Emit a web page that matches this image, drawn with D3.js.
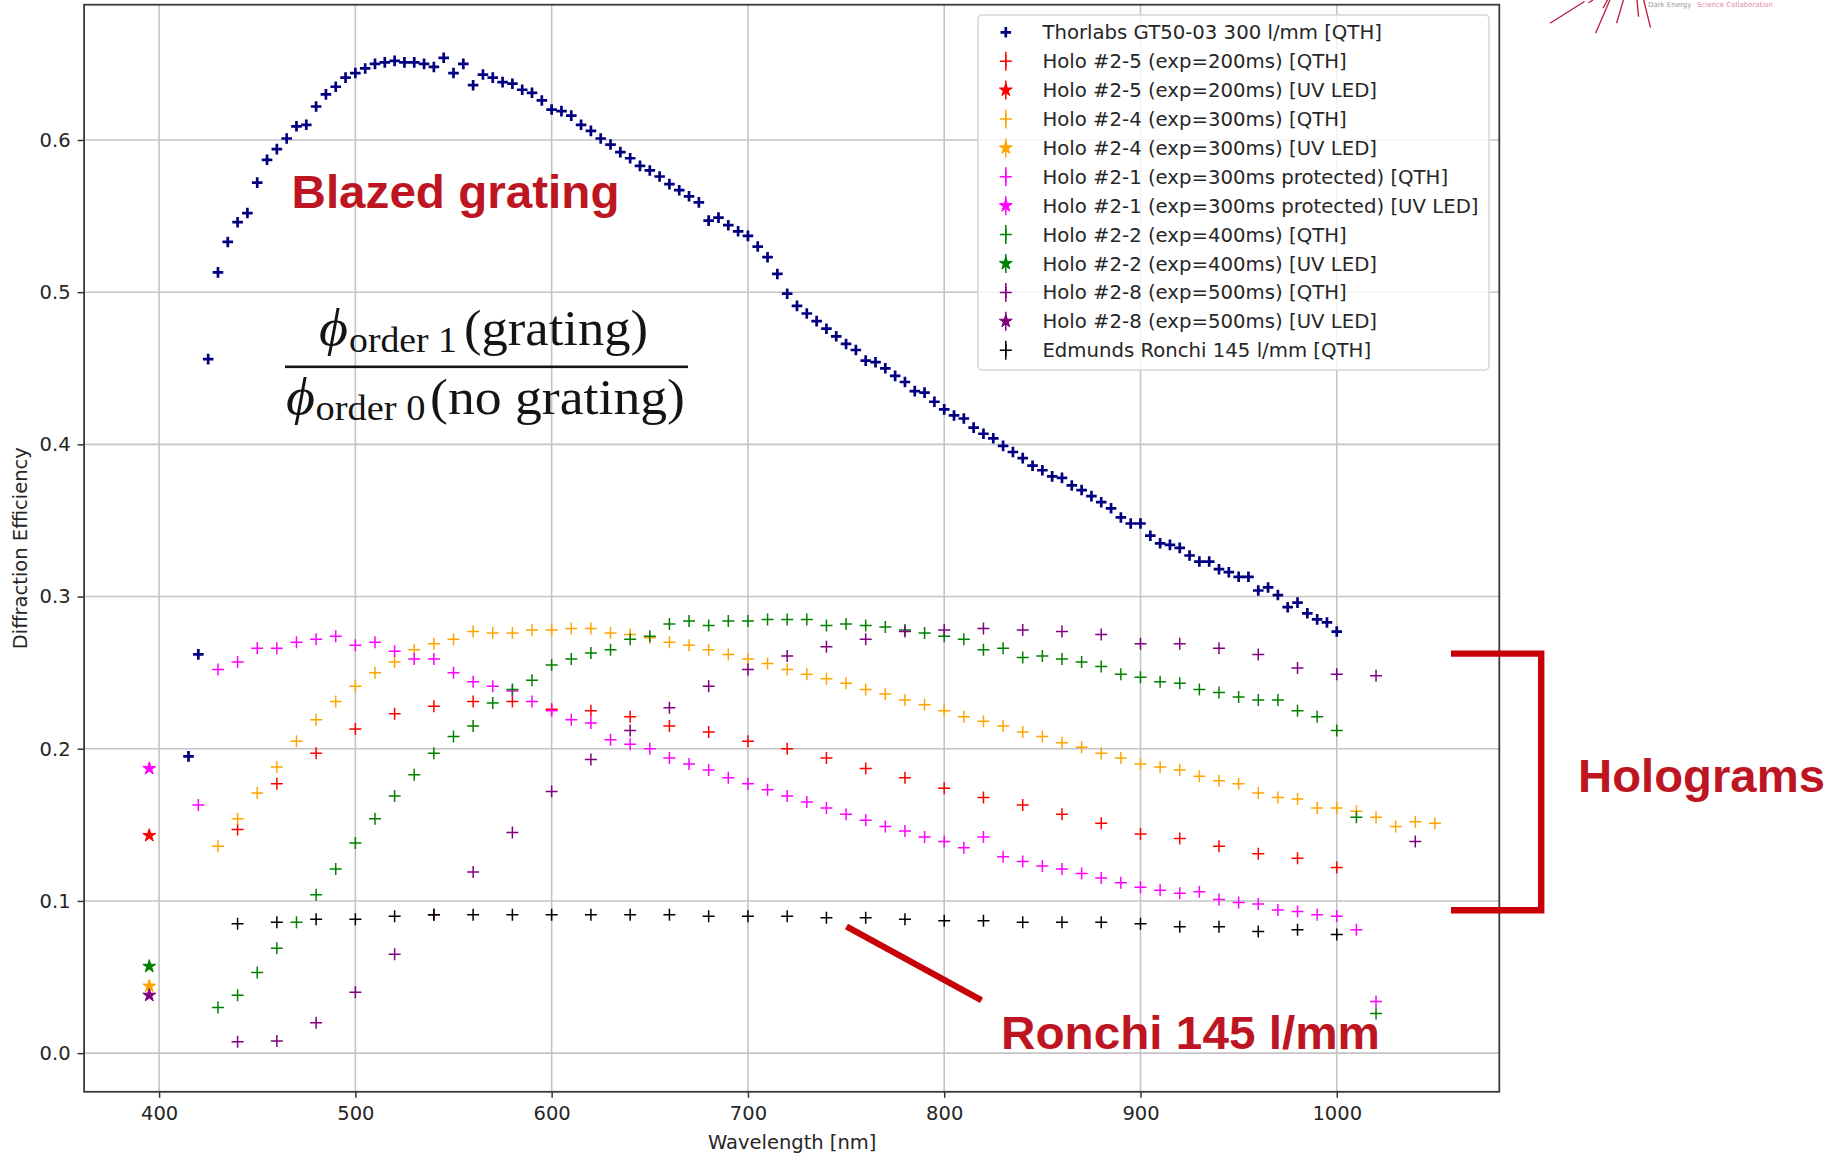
<!DOCTYPE html>
<html><head><meta charset="utf-8">
<script src="https://cdn.jsdelivr.net/npm/d3@7"></script>
<style>body{margin:0;background:#fff;} svg{display:block;}</style>
</head><body>
<script>
// ---------------- DATA ----------------
const xTicks = [400, 500, 600, 700, 800, 900, 1000];
const yTicks = [0.0, 0.1, 0.2, 0.3, 0.4, 0.5, 0.6];

const wlThorlabs = [415,420,425,430,435,440,445,450,455,460,465,470,475,480,485,490,495,500,505,510,515,520,525,530,535,540,545,550,555,560,565,570,575,580,585,590,595,600,605,610,615,620,625,630,635,640,645,650,655,660,665,670,675,680,685,690,695,700,705,710,715,720,725,730,735,740,745,750,755,760,765,770,775,780,785,790,795,800,805,810,815,820,825,830,835,840,845,850,855,860,865,870,875,880,885,890,895,900,905,910,915,920,925,930,935,940,945,950,955,960,965,970,975,980,985,990,995,1000];
const effThorlabs = [0.195,0.262,0.456,0.513,0.533,0.546,0.552,0.572,0.587,0.594,0.601,0.609,0.610,0.622,0.630,0.635,0.641,0.644,0.647,0.650,0.651,0.652,0.651,0.651,0.650,0.648,0.654,0.644,0.650,0.636,0.643,0.641,0.638,0.637,0.633,0.631,0.626,0.620,0.619,0.616,0.610,0.606,0.601,0.597,0.592,0.588,0.583,0.580,0.576,0.571,0.567,0.563,0.559,0.547,0.549,0.544,0.540,0.537,0.530,0.523,0.512,0.499,0.491,0.486,0.481,0.476,0.471,0.466,0.462,0.455,0.454,0.450,0.445,0.441,0.435,0.434,0.428,0.423,0.419,0.417,0.411,0.407,0.404,0.399,0.395,0.391,0.386,0.383,0.379,0.378,0.373,0.370,0.366,0.362,0.358,0.352,0.348,0.348,0.340,0.335,0.334,0.332,0.327,0.323,0.323,0.318,0.316,0.313,0.313,0.304,0.306,0.301,0.293,0.296,0.289,0.285,0.283,0.277];

const wlHolo25 = [440,460,480,500,520,540,560,580,600,620,640,660,680,700,720,740,760,780,800,820,840,860,880,900,920,940,960,980,1000];
const effHolo25 = [0.147,0.177,0.197,0.213,0.223,0.228,0.231,0.231,0.226,0.225,0.221,0.215,0.211,0.205,0.200,0.194,0.187,0.181,0.174,0.168,0.163,0.157,0.151,0.144,0.141,0.136,0.131,0.128,0.122];

const wlHolo24 = [430,440,450,460,470,480,490,500,510,520,530,540,550,560,570,580,590,600,610,620,630,640,650,660,670,680,690,700,710,720,730,740,750,760,770,780,790,800,810,820,830,840,850,860,870,880,890,900,910,920,930,940,950,960,970,980,990,1000,1010,1020,1030,1040,1050];
const effHolo24 = [0.136,0.154,0.171,0.188,0.205,0.219,0.231,0.241,0.250,0.257,0.265,0.269,0.272,0.277,0.276,0.276,0.278,0.278,0.279,0.279,0.276,0.275,0.273,0.270,0.268,0.265,0.262,0.259,0.256,0.252,0.249,0.246,0.243,0.239,0.236,0.232,0.229,0.225,0.221,0.218,0.215,0.211,0.208,0.204,0.201,0.197,0.194,0.190,0.188,0.186,0.182,0.179,0.177,0.171,0.168,0.167,0.161,0.161,0.159,0.155,0.149,0.152,0.151];

const wlHolo21 = [420,430,440,450,460,470,480,490,500,510,520,530,540,550,560,570,580,590,600,610,620,630,640,650,660,670,680,690,700,710,720,730,740,750,760,770,780,790,800,810,820,830,840,850,860,870,880,890,900,910,920,930,940,950,960,970,980,990,1000,1010,1020];
const effHolo21 = [0.163,0.252,0.257,0.266,0.266,0.270,0.272,0.274,0.268,0.270,0.264,0.259,0.259,0.250,0.244,0.241,0.238,0.231,0.225,0.219,0.217,0.206,0.203,0.200,0.194,0.190,0.186,0.181,0.177,0.173,0.169,0.165,0.161,0.157,0.153,0.149,0.146,0.142,0.139,0.135,0.142,0.129,0.126,0.123,0.121,0.118,0.115,0.112,0.109,0.107,0.105,0.106,0.101,0.099,0.098,0.094,0.093,0.091,0.090,0.081,0.034];

const wlHolo22 = [430,440,450,460,470,480,490,500,510,520,530,540,550,560,570,580,590,600,610,620,630,640,650,660,670,680,690,700,710,720,730,740,750,760,770,780,790,800,810,820,830,840,850,860,870,880,890,900,910,920,930,940,950,960,970,980,990,1000,1010,1020];
const effHolo22 = [0.030,0.038,0.053,0.069,0.086,0.104,0.121,0.138,0.154,0.169,0.183,0.197,0.208,0.215,0.230,0.239,0.245,0.255,0.259,0.263,0.265,0.272,0.274,0.282,0.284,0.281,0.284,0.284,0.285,0.285,0.285,0.281,0.282,0.281,0.280,0.278,0.276,0.274,0.272,0.265,0.266,0.260,0.261,0.259,0.257,0.254,0.249,0.247,0.244,0.243,0.239,0.237,0.234,0.232,0.232,0.225,0.221,0.212,0.155,0.026];

const wlHolo28 = [440,460,480,500,520,540,560,580,600,620,640,660,680,700,720,740,760,780,800,820,840,860,880,900,920,940,960,980,1000,1020,1040];
const effHolo28 = [0.0075,0.008,0.020,0.040,0.065,0.091,0.119,0.145,0.172,0.193,0.212,0.227,0.241,0.252,0.261,0.267,0.272,0.277,0.278,0.279,0.278,0.277,0.275,0.269,0.269,0.266,0.262,0.253,0.249,0.248,0.139];

const wlRonchi = [440,460,480,500,520,540,560,580,600,620,640,660,680,700,720,740,760,780,800,820,840,860,880,900,920,940,960,980,1000];
const effRonchi = [0.085,0.086,0.088,0.088,0.090,0.091,0.091,0.091,0.091,0.091,0.091,0.091,0.090,0.090,0.090,0.089,0.089,0.088,0.087,0.087,0.086,0.086,0.086,0.085,0.083,0.083,0.080,0.081,0.078];

// UV LED single measurements (395 nm)
const wlUV = [395];
const effUVHolo25 = [0.143];
const effUVHolo24 = [0.044];
const effUVHolo21 = [0.187];
const effUVHolo22 = [0.057];
const effUVHolo28 = [0.038];

const legendLabels = [
  "Thorlabs GT50-03 300 l/mm [QTH]",
  "Holo #2-5 (exp=200ms) [QTH]",
  "Holo #2-5 (exp=200ms) [UV LED]",
  "Holo #2-4 (exp=300ms) [QTH]",
  "Holo #2-4 (exp=300ms) [UV LED]",
  "Holo #2-1 (exp=300ms protected) [QTH]",
  "Holo #2-1 (exp=300ms protected) [UV LED]",
  "Holo #2-2 (exp=400ms) [QTH]",
  "Holo #2-2 (exp=400ms) [UV LED]",
  "Holo #2-8 (exp=500ms) [QTH]",
  "Holo #2-8 (exp=500ms) [UV LED]",
  "Edmunds Ronchi 145 l/mm [QTH]"
];
const seriesColors = ["navy","red","red","orange","orange","magenta","magenta","green","green","purple","purple","black"];

// ---------------- BUILD ----------------
const series = [
  {wl: wlThorlabs, eff: effThorlabs, kind: "bold"},
  {wl: wlHolo25, eff: effHolo25, kind: "plus"},
  {wl: wlUV, eff: effUVHolo25, kind: "star"},
  {wl: wlHolo24, eff: effHolo24, kind: "plus"},
  {wl: wlUV, eff: effUVHolo24, kind: "star"},
  {wl: wlHolo21, eff: effHolo21, kind: "plus"},
  {wl: wlUV, eff: effUVHolo21, kind: "star"},
  {wl: wlHolo22, eff: effHolo22, kind: "plus"},
  {wl: wlUV, eff: effUVHolo22, kind: "star"},
  {wl: wlHolo28, eff: effHolo28, kind: "plus"},
  {wl: wlUV, eff: effUVHolo28, kind: "star"},
  {wl: wlRonchi, eff: effRonchi, kind: "plus"}
].map((s, i) => ({...s, label: legendLabels[i], color: seriesColors[i],
   pts: d3.range(Math.min(s.wl.length, s.eff.length)).map(j => [s.wl[j], s.eff[j]])}));

const W = 1831, H = 1153;
const L = 84.1, R = 1499.3, T = 4.7, B = 1091.8;
const x = d3.scaleLinear().domain([361.8, 1082.8]).range([L, R]);
const y = d3.scaleLinear().domain([-0.0254, 0.6889]).range([B, T]);

const svg = d3.select("body").append("svg").attr("width", W).attr("height", H)
  .style("font-family", "'DejaVu Sans', sans-serif");
svg.append("rect").attr("width", W).attr("height", H).attr("fill", "#fff");

// grid
const grid = svg.append("g");
grid.selectAll(".gx").data(xTicks).join("line")
  .attr("x1", d => x(d)).attr("x2", d => x(d)).attr("y1", T).attr("y2", B)
  .attr("stroke", "#c4c4c4").attr("stroke-width", 1.6);
grid.selectAll(".gy").data(yTicks).join("line")
  .attr("y1", d => y(d)).attr("y2", d => y(d)).attr("x1", L).attr("x2", R)
  .attr("stroke", "#c4c4c4").attr("stroke-width", 1.6);

// axes
const xAxis = svg.append("g").attr("transform", `translate(0,${B})`)
  .call(d3.axisBottom(x).tickValues(xTicks).tickFormat(d3.format("d")).tickSize(6).tickPadding(8.5));
const yAxis = svg.append("g").attr("transform", `translate(${L},0)`)
  .call(d3.axisLeft(y).tickValues(yTicks).tickFormat(d3.format(".1f")).tickSize(6.5).tickPadding(7));
[xAxis, yAxis].forEach(a => {
  a.select(".domain").remove();
  a.selectAll(".tick line").attr("stroke", "#333").attr("stroke-width", 1.5);
  a.selectAll(".tick text").attr("fill", "#262626").style("font-size", "19.5px")
    .style("font-family", "'DejaVu Sans', sans-serif");
});

// spines
svg.append("rect").attr("x", L).attr("y", T).attr("width", R - L).attr("height", B - T)
  .attr("fill", "none").attr("stroke", "#3a3a3a").attr("stroke-width", 1.8);

// axis labels
svg.append("text").attr("x", (L + R) / 2 + 0.5).attr("y", 1148.5).attr("text-anchor", "middle")
  .attr("fill", "#262626").style("font-size", "19.5px").text("Wavelength [nm]");
svg.append("text").attr("transform", `translate(27,${(T + B) / 2}) rotate(-90)`)
  .attr("text-anchor", "middle").attr("fill", "#262626").style("font-size", "19.5px")
  .text("Diffraction Efficiency");

// markers
function plusPath(h) { return `M${-h},0H${h}M0,${-h}V${h}`; }
const starPath = d3.symbol(d3.symbolStar).size(52)();

function drawMarker(g, kind, color) {
  if (kind === "bold") {
    g.append("path").attr("d", plusPath(5.3)).attr("stroke", color).attr("stroke-width", 2.7).attr("fill", "none");
  } else if (kind === "plus") {
    g.append("path").attr("d", plusPath(6)).attr("stroke", color).attr("stroke-width", 1.5).attr("fill", "none");
  } else {
    g.append("path").attr("d", starPath).attr("fill", color).attr("stroke", color).attr("stroke-width", 1)
      .attr("stroke-linejoin", "round");
  }
}

const plot = svg.append("g");
series.forEach(s => {
  const g = plot.append("g");
  g.selectAll("g").data(s.pts).join("g")
    .attr("transform", d => `translate(${x(d[0])},${y(d[1])})`)
    .each(function () { drawMarker(d3.select(this), s.kind, s.color); });
});

// legend
const lg = svg.append("g");
lg.append("rect").attr("x", 978).attr("y", 15).attr("width", 511).attr("height", 355).attr("rx", 4)
  .attr("fill", "rgba(255,255,255,0.8)").attr("stroke", "#d6d6d6").attr("stroke-width", 1.5);
series.forEach((s, i) => {
  const cy = 32.3 + i * 28.9;
  const g = lg.append("g").attr("transform", `translate(1005.8,${cy})`);
  if (s.kind !== "bold") {
    g.append("line").attr("y1", -9.5).attr("y2", 9.5).attr("stroke", s.color).attr("stroke-width", 1.5);
  }
  drawMarker(g, s.kind, s.color);
  lg.append("text").attr("x", 1042.4).attr("y", cy).attr("dy", "0.36em")
    .attr("fill", "#262626").style("font-size", "19.7px").text(s.label);
});

// ---------------- ANNOTATIONS ----------------
const annRed = "#bd1622", lineRed = "#c80008";
const bold = (t, xx, yy, len) => svg.append("text").attr("x", xx).attr("y", yy)
  .attr("fill", annRed).style("font-family", "'Liberation Sans', Arial, sans-serif")
  .style("font-weight", "bold").style("font-size", "47px")
  .attr("textLength", len).attr("lengthAdjust", "spacingAndGlyphs").text(t);
bold("Blazed grating", 291.5, 207.5, 328);
bold("Holograms", 1578, 792, 247);
bold("Ronchi 145 l/mm", 1001, 1048.5, 379);

// bracket and pointer
svg.append("path").attr("d", "M1451,653.6H1541.2V910.2H1451").attr("fill", "none")
  .attr("stroke", lineRed).attr("stroke-width", 6.4).attr("stroke-linejoin", "miter");
svg.append("line").attr("x1", 846.5).attr("y1", 926.5).attr("x2", 981.5).attr("y2", 1000.3)
  .attr("stroke", lineRed).attr("stroke-width", 6.2);

// formula
const f = svg.append("g").attr("fill", "#141414").style("font-family", "'Liberation Serif', 'DejaVu Serif', serif");
const ftext = (t, xx, yy, size, len, italic) => f.append("text").attr("x", xx).attr("y", yy)
  .style("font-size", size + "px").style("font-style", italic ? "italic" : "normal")
  .attr("textLength", len).attr("lengthAdjust", "spacingAndGlyphs").text(t);
ftext("\u03D5", 319, 345, 52, 29, true);
ftext("order 1", 349, 351.5, 36, 108, false);
ftext("(grating)", 464, 345, 51, 184, false);
f.append("rect").attr("x", 285).attr("y", 365.5).attr("width", 403).attr("height", 2.6);
ftext("\u03D5", 286, 413.5, 52, 29, true);
ftext("order 0", 315.5, 420, 36, 110, false);
ftext("(no grating)", 430, 413.5, 51, 255, false);

// partial logo at top-right
const logo = svg.append("g").attr("stroke", "#b8193c").attr("stroke-width", 1.3).attr("fill", "none");
[[1550,23.3,1584.5,1.5],[1588.5,2.8,1593,0],[1595.6,33.3,1609.9,0],[1603,8.3,1607.5,0],
 [1616.6,23.3,1623.4,0],[1638.6,16.7,1637,0],[1650.5,27.7,1643.7,0]].forEach(l =>
  logo.append("line").attr("x1", l[0]).attr("y1", l[1]).attr("x2", l[2]).attr("y2", l[3]));
svg.append("text").attr("x", 1648).attr("y", 7).style("font-size", "7px").attr("fill", "#999").text("Dark Energy");
svg.append("text").attr("x", 1697).attr("y", 7).style("font-size", "7px").attr("fill", "#e48a9e").text("Science Collaboration");
</script>
</body></html>
